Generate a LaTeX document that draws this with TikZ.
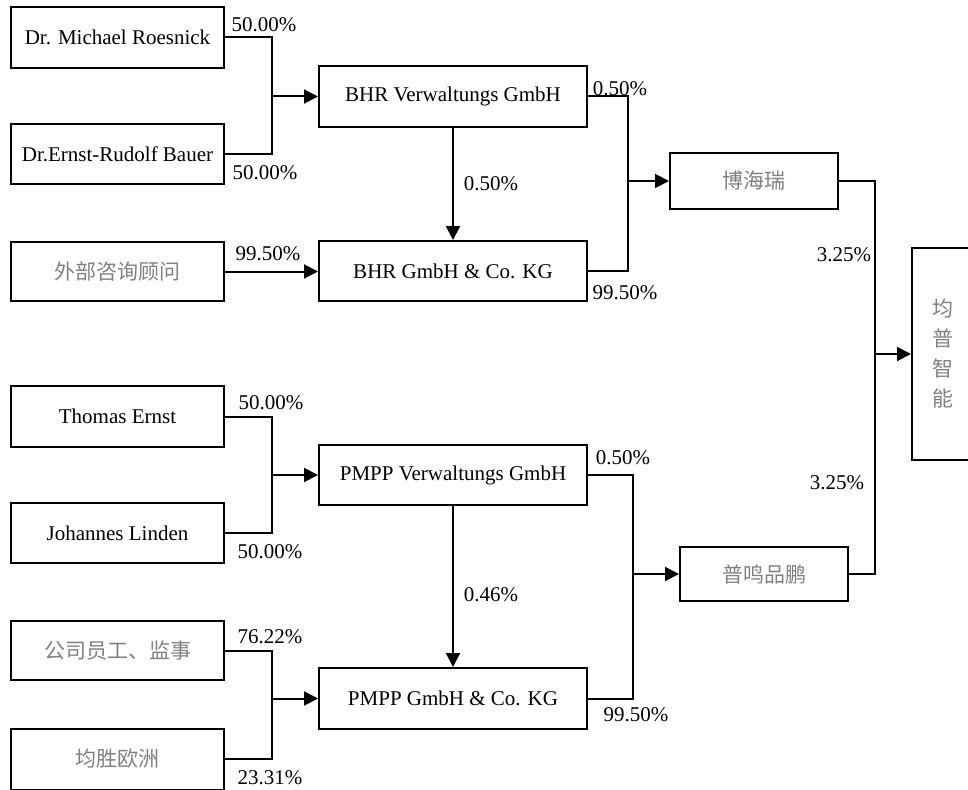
\documentclass[tikz,border=0pt]{standalone}
\usepackage{fontspec}
\setmainfont{Liberation Serif}
\newfontfamily\cjk{Noto Sans CJK SC}
\usetikzlibrary{arrows.meta}
\definecolor{cjkgray}{RGB}{128,128,128}
\begin{document}
\begin{tikzpicture}[x=1pt,y=-1pt,
  box/.style={draw, line width=2pt, minimum width=213pt, minimum height=61pt, inner sep=0pt, font=\fontsize{21}{24}\selectfont},
  cbox/.style={box, font=\cjk\fontsize{21}{24}\selectfont, text=cjkgray},
  midbox/.style={box, minimum width=268pt},
  conn/.style={line width=2pt},
  arr/.style={conn, -{Triangle[length=14pt,width=14pt]}},
  pct/.style={font=\fontsize{21}{24}\selectfont, inner sep=0pt}]
\useasboundingbox (0,0) rectangle (968,789);
\clip (0,0) rectangle (968,789);

% left column
\node[box] (m1) at (117.5,37.5) {Dr. Michael Roesnick};
\node[box, minimum height=60pt] (m2) at (117.5,154) {Dr.Ernst-Rudolf Bauer};
\node[cbox, minimum height=59pt] (m3) at (117.5,271.5) {外部咨询顾问};
\node[box] (t1) at (117.5,416.5) {Thomas Ernst};
\node[box, minimum height=60pt] (t2) at (117.5,533) {Johannes Linden};
\node[cbox, minimum height=59pt] (t3) at (117.5,650.5) {公司员工、监事};
\node[cbox, minimum height=61pt] (t4) at (117.5,759) {均胜欧洲};

% middle column
\node[midbox] (bv) at (453,96.5) {BHR Verwaltungs GmbH};
\node[midbox, minimum height=60pt] (bk) at (453,271) {BHR GmbH \& Co. KG};
\node[midbox, minimum height=60pt] (pv) at (453,475) {PMPP Verwaltungs GmbH};
\node[midbox] (pk) at (453,698.5) {PMPP GmbH \& Co. KG};

% right
\node[cbox, minimum width=168pt, minimum height=56pt] (bhr) at (754,181) {博海瑞};
\node[cbox, minimum width=168pt, minimum height=54pt] (pm) at (764,574) {普鸣品鹏};
\node[cbox, minimum width=62pt, minimum height=212pt, align=center,
      font=\cjk\fontsize{21}{30}\selectfont] (jp) at (943,354) {均\\普\\智\\能};

% junctions
\coordinate (j1) at (272,96.5);
\coordinate (j2) at (628,181);
\coordinate (j3) at (875,354);
\coordinate (j5) at (272,475);
\coordinate (j6) at (272,698.5);
\coordinate (j7) at (633,574);

% connectors
\draw[conn] (m1.east) -| (j1);
\draw[conn] (m2.east) -| (j1);
\draw[arr] (j1) -- (bv.west);
\draw[arr] (bv.south) -- (bk.north);
\draw[arr] (m3.east) -- (m3.east -| bk.west);
\draw[conn] (bv.east) -| (j2);
\draw[conn] (bk.east) -| (j2);
\draw[arr] (j2) -- (bhr.west);
\draw[conn] (bhr.east) -| (j3);
\draw[conn] (pm.east) -| (j3);
\draw[arr] (j3) -- (jp.west);

\draw[conn] (t1.east) -| (j5);
\draw[conn] (t2.east) -| (j5);
\draw[arr] (j5) -- (pv.west);
\draw[arr] (pv.south) -- (pk.north);
\draw[conn] (t3.east) -| (j6);
\draw[conn] (t4.east) -| (j6);
\draw[arr] (j6) -- (pk.west);
\draw[conn] (pv.east) -| (j7);
\draw[conn] (pk.east) -| (j7);
\draw[arr] (j7) -- (pm.west);

% labels
\node[pct] (l1) at (264,25) {50.00\%};
\node[pct] (l2) at (265,173) {50.00\%};
\node[pct] (l3) at (268,254) {99.50\%};
\node[pct] (l4) at (491,184) {0.50\%};
\node[pct] (l5) at (620,89) {0.50\%};
\node[pct] (l6) at (625,293) {99.50\%};
\node[pct] (l7) at (844,255) {3.25\%};
\node[pct] (l8) at (837,483) {3.25\%};
\node[pct] (l9) at (271,403) {50.00\%};
\node[pct] (l10) at (270,552) {50.00\%};
\node[pct] (l11) at (623,458) {0.50\%};
\node[pct] (l12) at (491,595) {0.46\%};
\node[pct] (l13) at (636,715) {99.50\%};
\node[pct] (l14) at (270,637) {76.22\%};
\node[pct] (l15) at (270,778) {23.31\%};
\end{tikzpicture}
\end{document}
